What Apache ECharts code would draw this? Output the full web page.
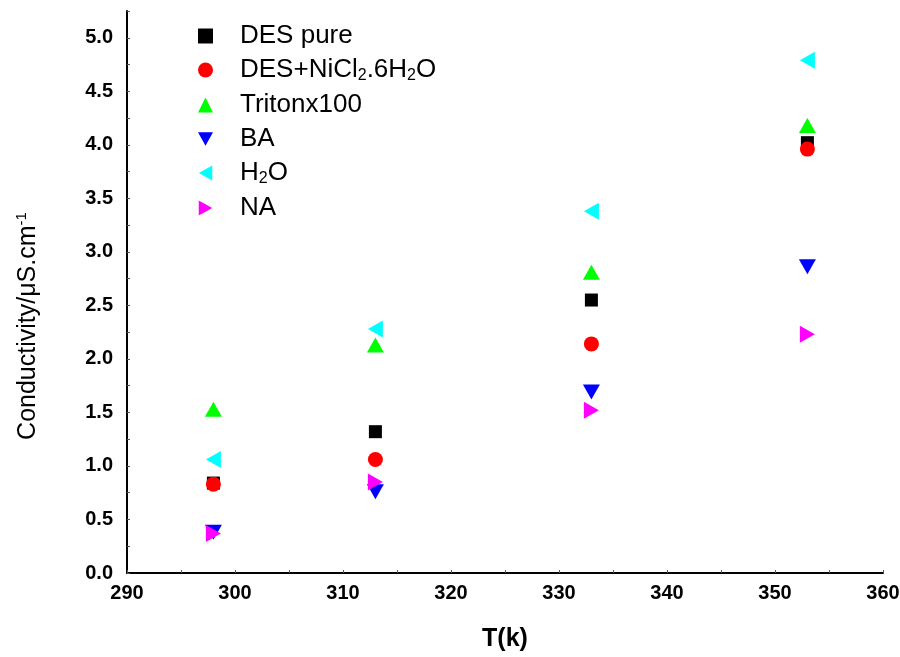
<!DOCTYPE html>
<html>
<head>
<meta charset="utf-8">
<script src="https://cdn.jsdelivr.net/npm/echarts@6/dist/echarts.min.js"></script>
<style>
  html, body { margin: 0; padding: 0; background: #fff; }
  #chartMain { width: 900px; height: 657px; }
</style>
</head>
<body>
<div id="chartMain"></div>
<script>
// temperatures (K)
var temps = [298, 313, 333, 353];
// conductivity values
var desPure   = [0.84, 1.32, 2.55, 4.02];
var desNi     = [0.83, 1.06, 2.14, 3.96];
var triton    = [1.53, 2.13, 2.81, 4.18];
var ba        = [0.38, 0.76, 1.69, 2.86];
var water     = [1.06, 2.28, 3.38, 4.79];
var na        = [0.37, 0.85, 1.52, 2.23];
var seriesNames = ['DES pure', 'DES+NiCl2.6H2O', 'Tritonx100', 'BA', 'H2O', 'NA'];

var triDown  = 'path://M0,0 L10,0 L5,9 Z';
var triLeft  = 'path://M9,0 L9,10 L0,5 Z';
var triRight = 'path://M0,0 L9,5 L0,10 Z';

function pairs(vals) {
    var out = [];
    for (var i = 0; i < temps.length; i++) {
        out.push([temps[i], vals[i]]);
    }
    return out;
}

var myChart = echarts.init(document.getElementById('chartMain'));
var font = 'Liberation Sans, Arial, sans-serif';

var option = {
    backgroundColor: '#fff',
    animation: false,
    grid: { left: 127, right: 17, top: 11, bottom: 84, outerBoundsMode: 'none', containLabel: false },
    legend: {
        orient: 'vertical',
        left: 193,
        top: 18,
        itemGap: 8,
        itemWidth: 15,
        itemHeight: 15,
        data: seriesNames,
        textStyle: {
            fontFamily: font,
            fontSize: 26,
            color: '#000',
            padding: [0, 0, 0, 22],
            rich: {
                sub: { fontSize: 16, verticalAlign: 'bottom', padding: [12, 0, 0, 0], fontFamily: font, color: '#000' },
                n: { fontSize: 26, fontFamily: font, color: '#000' }
            }
        },
        formatter: function (name) {
            if (name === 'DES+NiCl2.6H2O') return '{n|DES+NiCl}{sub|2}{n|.6H}{sub|2}{n|O}';
            if (name === 'H2O') return '{n|H}{sub|2}{n|O}';
            return '{n|' + name + '}';
        }
    },
    xAxis: {
        type: 'value',
        min: 290,
        max: 360,
        interval: 5,
        name: 'T(k)',
        nameLocation: 'middle',
        nameGap: 54,
        nameTextStyle: { fontFamily: font, fontSize: 25, fontWeight: 'bold', color: '#000' },
        axisLine: { lineStyle: { color: '#000', width: 2 } },
        axisTick: { inside: true, length: 3, lineStyle: { color: '#555', width: 1 } },
        splitLine: { show: false },
        axisLabel: {
            fontFamily: font, fontSize: 20, fontWeight: 'bold', color: '#000', margin: 10,
            formatter: function (v) { return v % 10 === 0 ? String(v) : ''; }
        }
    },
    yAxis: {
        type: 'value',
        min: 0,
        max: 5.25,
        interval: 0.25,
        name: '{n|Conductivity/μS.cm}{sup|-1}',
        nameLocation: 'middle',
        nameGap: 84,
        nameTextStyle: {
            padding: [0, 68, 0, 0],
            rich: {
                n: { fontFamily: font, fontSize: 25, color: '#000' },
                sup: { fontFamily: font, fontSize: 15, color: '#000', verticalAlign: 'top', padding: [0, 0, 14, 0] }
            }
        },
        axisLine: { show: true, lineStyle: { color: '#000', width: 2 } },
        axisTick: { show: true, inside: true, length: 3, lineStyle: { color: '#555', width: 1 } },
        splitLine: { show: false },
        axisLabel: {
            fontFamily: font, fontSize: 20, fontWeight: 'bold', color: '#000', margin: 14,
            formatter: function (v) {
                var r = Math.round(v * 100);
                return r % 50 === 0 ? v.toFixed(1) : '';
            }
        }
    },
    series: [
        { name: 'DES pure', type: 'scatter', symbol: 'rect', symbolSize: 13, itemStyle: { color: '#000', opacity: 1 }, data: pairs(desPure) },
        { name: 'DES+NiCl2.6H2O', type: 'scatter', symbol: 'circle', symbolSize: 15, itemStyle: { color: '#ff0000', opacity: 1 }, data: pairs(desNi) },
        { name: 'Tritonx100', type: 'scatter', symbol: 'triangle', symbolSize: [17, 15], itemStyle: { color: '#00ff00', opacity: 1 }, data: pairs(triton) },
        { name: 'BA', type: 'scatter', symbol: triDown, symbolSize: [17, 15], itemStyle: { color: '#0000ff', opacity: 1 }, data: pairs(ba) },
        { name: 'H2O', type: 'scatter', symbol: triLeft, symbolSize: [15, 17], itemStyle: { color: '#00ffff', opacity: 1 }, data: pairs(water) },
        { name: 'NA', type: 'scatter', symbol: triRight, symbolSize: [15, 17], itemStyle: { color: '#ff00ff', opacity: 1 }, data: pairs(na) }
    ]
};
myChart.setOption(option);
</script>
</body>
</html>
